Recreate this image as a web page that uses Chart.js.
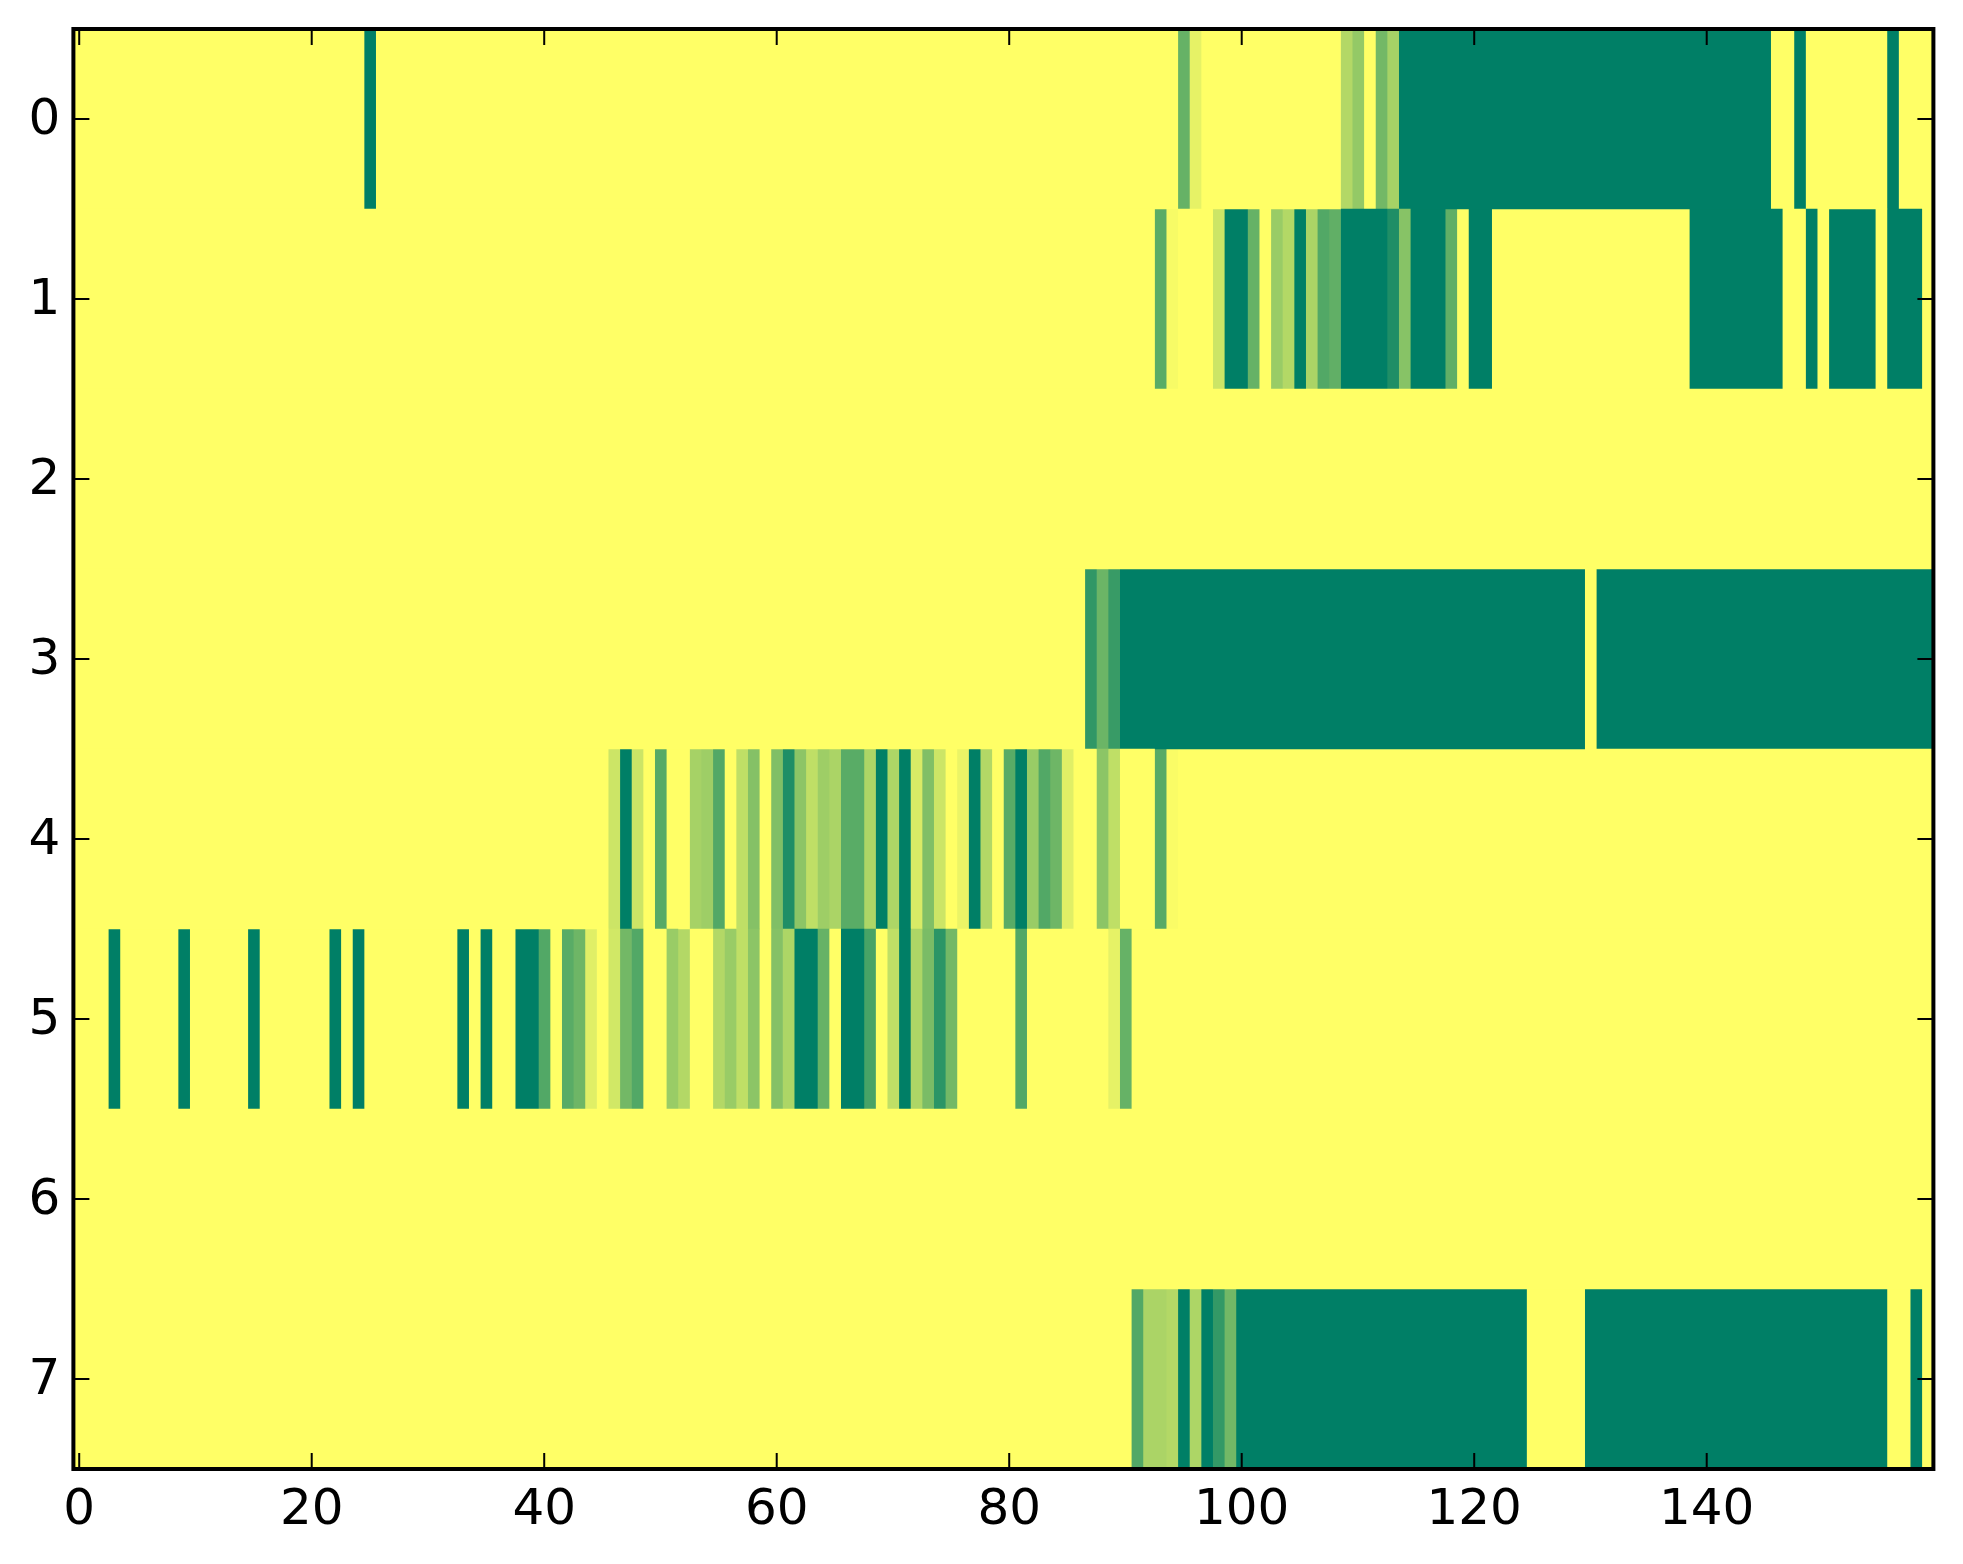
<!DOCTYPE html>
<html>
<head>
<meta charset="utf-8">
<style>html,body{margin:0;padding:0;background:#fff}canvas{display:block}</style>
<script src="https://cdn.jsdelivr.net/npm/chart.js@4/dist/chart.umd.min.js"></script>
</head>
<body>
<canvas id="c" width="1963" height="1564"></canvas>
<script>
const columnCount = 160;
const rowLabels = ['0','1','2','3','4','5','6','7'];
const xTickValues = [0,20,40,60,80,100,120,140];

// Each entry: [first column, last column, intensity 0..1]; columns not listed are 0.
const row0 = [[25,25,1],[95,95,.60],[96,96,.10],[109,109,.30],[110,110,.42],[112,112,.55],[113,113,.35],[114,145,1],[148,148,1],[156,156,1]];
const row1 = [[93,93,.65],[94,94,.03],[98,98,.20],[99,100,1],[101,101,.60],[103,103,.40],[104,104,.30],[105,105,1],[106,106,.33],[107,107,.68],[108,108,.62],[109,112,1],[113,113,.88],[114,114,.47],[115,117,1],[118,118,.62],[120,121,1],[139,146,1],[149,149,1],[151,154,1],[156,158,1]];
const row2 = [];
const row3 = [[87,87,.81],[88,88,.58],[89,89,.78],[90,129,1],[131,159,1]];
const row4 = [[46,46,.20],[47,47,1],[48,48,.20],[50,50,.66],[53,53,.35],[54,54,.38],[55,55,.68],[57,57,.25],[58,58,.48],[60,60,.50],[61,61,.88],[62,62,.45],[63,63,.25],[64,64,.38],[65,65,.33],[66,67,.65],[68,68,.32],[69,69,1],[70,70,.32],[71,71,1],[72,72,.15],[73,73,.50],[74,74,.20],[76,76,.08],[77,77,1],[78,78,.30],[80,80,.65],[81,81,1],[82,82,.40],[83,83,.68],[84,84,.57],[85,85,.12],[88,88,.45],[89,89,.25],[93,93,.66],[94,94,.02]];
const row5 = [[3,3,1],[9,9,1],[15,15,1],[22,22,1],[24,24,1],[33,33,1],[35,35,1],[38,39,1],[40,40,.68],[42,42,.65],[43,43,.57],[44,44,.12],[46,46,.18],[47,47,.55],[48,48,.68],[51,51,.40],[52,52,.30],[55,55,.30],[56,56,.40],[57,57,.25],[58,58,.45],[60,60,.48],[61,61,.32],[62,63,1],[64,64,.60],[66,67,1],[68,68,.72],[70,70,.25],[71,71,1],[72,72,.32],[73,73,.52],[74,74,.83],[75,75,.55],[81,81,.68],[89,89,.10],[90,90,.60]];
const row6 = [];
const row7 = [[91,91,.68],[92,93,.33],[94,94,.30],[95,95,1],[96,96,.32],[97,97,1],[98,98,.80],[99,99,.55],[100,124,1],[130,155,1],[158,158,1]];
const rowRuns = [row0,row1,row2,row3,row4,row5,row6,row7];

// Reversed "summer" colour map: 0 -> yellow, 1 -> green.
function colourOf(v){
  const r = Math.round(255*(1-v));
  const g = Math.floor(255*(1-0.5*v));
  return 'rgb('+r+','+g+',102)';
}
function valueAt(runs,col){
  for (const [a,b,v] of runs){ if (col>=a && col<=b) return v; }
  return 0;
}
// End of the stretch of equal cells that starts at col (null when col continues a stretch).
function stretchFrom(runs,col){
  const v = valueAt(runs,col);
  if (col>0 && valueAt(runs,col-1)===v) return null;
  let end = col;
  while (end+1<columnCount && valueAt(runs,end+1)===v) end++;
  return [col-0.5,end+0.5];
}

const columns = Array.from({length:columnCount},(_,i)=>i);
const datasets = columns.map(col=>({
  data: rowRuns.map(runs=>stretchFrom(runs,col)),
  backgroundColor: rowRuns.map(runs=>colourOf(valueAt(runs,col))),
  borderWidth: 0,
  grouped: false,
  barPercentage: 1,
  categoryPercentage: 1
}));

const frameAndTicks = {
  id:'frameAndTicks',
  afterDraw(chart){
    const {ctx,chartArea:a,scales:{x,y}} = chart;
    const len = 16;
    ctx.save();
    ctx.strokeStyle = '#000';
    ctx.lineWidth = 2;
    ctx.beginPath();
    x.ticks.forEach((t,i)=>{
      const p = x.getPixelForTick(i);
      ctx.moveTo(p,a.top); ctx.lineTo(p,a.top+len);
      ctx.moveTo(p,a.bottom); ctx.lineTo(p,a.bottom-len);
    });
    y.ticks.forEach((t,i)=>{
      const p = y.getPixelForTick(i);
      ctx.moveTo(a.left,p); ctx.lineTo(a.left+len,p);
      ctx.moveTo(a.right,p); ctx.lineTo(a.right-len,p);
    });
    ctx.stroke();
    ctx.lineWidth = 4;
    ctx.strokeRect(a.left,a.top,a.right-a.left,a.bottom-a.top);
    ctx.restore();
  }
};

new Chart(document.getElementById('c'),{
  type:'bar',
  data:{labels:rowLabels,datasets},
  plugins:[frameAndTicks],
  options:{
    indexAxis:'y',
    responsive:false,
    animation:false,
    devicePixelRatio:1,
    layout:{padding:{left:0.4,top:29,right:29.6,bottom:0}},
    plugins:{legend:{display:false},tooltip:{enabled:false},title:{display:false}},
    events:[],
    scales:{
      x:{
        type:'linear',
        position:'bottom',
        min:-0.5,
        max:159.5,
        afterBuildTicks(s){ s.ticks = xTickValues.map(v=>({value:v})); },
        afterFit(s){ s.height = 95; s.paddingLeft = 0; s.paddingRight = 0; },
        grid:{display:false,drawTicks:false},
        border:{display:false},
        ticks:{autoSkip:false,maxRotation:0,padding:12,color:'#000',font:{family:'"DejaVu Sans"',size:50}}
      },
      y:{
        type:'category',
        afterFit(s){ s.width = 73; s.paddingTop = 0; s.paddingBottom = 0; },
        grid:{display:false,drawTicks:false},
        border:{display:false},
        ticks:{autoSkip:false,padding:13,labelOffset:2,color:'#000',font:{family:'"DejaVu Sans"',size:50}}
      }
    }
  }
});
</script>
</body>
</html>
